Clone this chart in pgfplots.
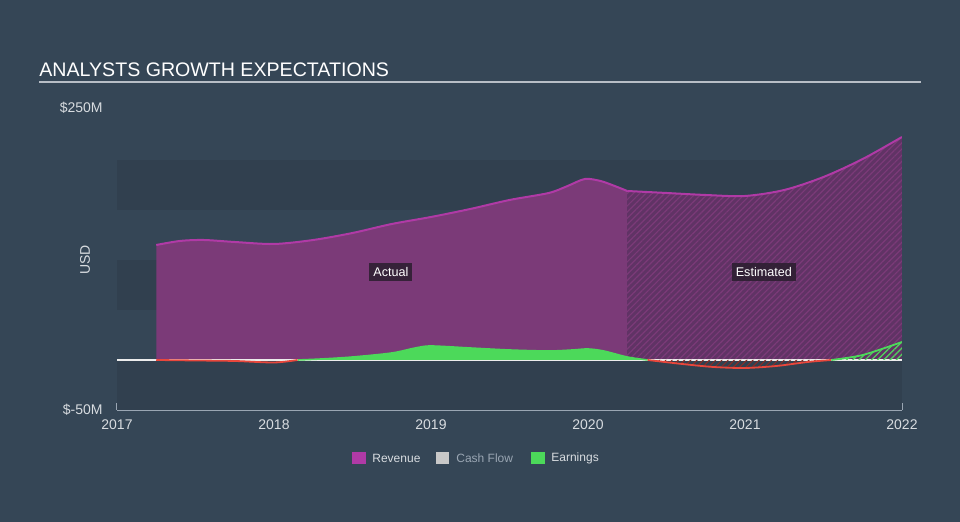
\documentclass[border=0pt]{standalone}
\usepackage{pgfplots}
\pgfplotsset{compat=1.18}
\usepackage{pgfplotstable}
\usepackage{fontspec}
\setmainfont{Liberation Sans}
\usetikzlibrary{patterns.meta}

\definecolor{bg}{HTML}{354656}
\definecolor{band}{HTML}{31404F}
\definecolor{revfill}{HTML}{7B3A78}
\definecolor{revline}{HTML}{B03AA6}
\definecolor{revest}{HTML}{603365}
\definecolor{earn}{HTML}{4CD95A}
\definecolor{neg}{HTML}{E8473C}
\definecolor{axiscol}{HTML}{9AA6B3}
\definecolor{txt}{HTML}{D8DCE0}
\definecolor{cash}{HTML}{C8C8C8}
\definecolor{labbg}{HTML}{2A1E2E}
\definecolor{rulecol}{HTML}{B8BEC6}

\pgfplotstableread{
x y
2017.25 115
2017.40 119
2017.55 120
2017.75 118
2018.00 116
2018.25 120
2018.50 127
2018.75 136
2019.00 143
2019.25 151
2019.50 160
2019.75 167
2019.87 174
2019.98 181
2020.08 179
2020.17 174
2020.25 169
}\revact

\pgfplotstableread{
x y
2020.25 169
2020.50 167
2020.75 165
2021.00 164
2021.25 170
2021.50 183
2021.75 201
2022.00 223
}\revest

\pgfplotstableread{
x y
2017.25 0
2017.50 -0.5
2017.75 -1
2018.00 -2.5
2018.15 0
}\earnA

\pgfplotstableread{
x y
2018.15 0
2018.30 1
2018.50 3
2018.75 7
2018.90 12
2019.00 14
2019.25 12
2019.50 10
2019.75 9
2019.90 10
2020.00 11
2020.10 9
2020.25 3
2020.38 0
}\earnB

\pgfplotstableread{
x y
2020.38 0
2020.60 -4
2020.80 -7
2021.00 -8
2021.20 -6
2021.40 -2
2021.55 0
}\earnC

\pgfplotstableread{
x y
2021.55 0
2021.75 5
2022.00 18
}\earnD

\begin{document}
\begin{tikzpicture}
\fill[bg] (0,0) rectangle (480pt,261pt);
\useasboundingbox (0,0) rectangle (480pt,261pt);
\node[anchor=base west, text=white, font=\fontsize{9.8}{12}\selectfont, inner sep=0pt] at (19.5pt,222.5pt) {ANALYSTS GROWTH EXPECTATIONS};
\draw[rulecol, line width=1pt] (19.5pt,220pt) -- (460.5pt,220pt);

\node[anchor=east, text=txt, font=\fontsize{7}{8}\selectfont, inner sep=0pt] at (51.5pt,207pt) {\$250M};
\node[anchor=east, text=txt, font=\fontsize{7}{8}\selectfont, inner sep=0pt] at (51.5pt,56pt) {\$-50M};
\node[rotate=90, text=txt, font=\fontsize{7}{8}\selectfont, inner sep=0pt] at (42.5pt,131pt) {USD};

\begin{axis}[
  at={(58.5pt,56pt)}, anchor=south west,
  scale only axis, width=392.5pt, height=150pt,
  xmin=2017, xmax=2022, ymin=-50, ymax=250,
  axis x line*=bottom, axis y line=none,
  x axis line style={draw=axiscol, line width=0.6pt},
  xtick={2017,2018,2019,2020,2021,2022},
  xtick align=inside,
  major tick length=3.5pt,
  xtick style={draw=axiscol, line width=0.6pt},
  xticklabel style={font=\fontsize{7}{8}\selectfont, text=txt, yshift=-1.5pt},
  /pgf/number format/1000 sep={},
  /pgf/number format/assume math mode=true,
]
\fill[band] (axis cs:2017,150) rectangle (axis cs:2022,200);
\fill[band] (axis cs:2017,50) rectangle (axis cs:2022,100);
\fill[band] (axis cs:2017,-50) rectangle (axis cs:2022,0);

\addplot[draw=none, fill=revfill, smooth] table {\revact} \closedcycle;
\addplot[draw=none, fill=revest, smooth, postaction={pattern={Lines[angle=45,distance=2.2pt,line width=0.6pt]}, pattern color=revfill}] table {\revest} \closedcycle;
\addplot[revline, line width=1pt, smooth] table {\revact};
\addplot[revline, line width=1pt, smooth] table {\revest};

\draw[white!85!gray, line width=0.6pt] (axis cs:2017,0) -- (axis cs:2022,0);

\addplot[draw=none, fill=earn, smooth] table {\earnB} \closedcycle;
\addplot[earn, line width=0.8pt, smooth] table {\earnB};
\addplot[draw=none, smooth, pattern={Lines[angle=45,distance=2.2pt,line width=0.5pt]}, pattern color=neg!60!black] table {\earnC} \closedcycle;
\addplot[neg, line width=0.9pt, smooth] table {\earnA};
\addplot[neg, line width=0.9pt, smooth] table {\earnC};
\addplot[draw=none, smooth, pattern={Lines[angle=45,distance=2.2pt,line width=0.6pt]}, pattern color=earn] table {\earnD} \closedcycle;
\addplot[earn, line width=0.9pt, smooth] table {\earnD};

\node[fill=labbg, fill opacity=0.85, text opacity=1, text=white, font=\fontsize{6.3}{7}\selectfont, inner sep=2pt] at (axis cs:2018.745,88) {Actual};
\node[fill=labbg, fill opacity=0.85, text opacity=1, text=white, font=\fontsize{6.3}{7}\selectfont, inner sep=2pt] at (axis cs:2021.12,88) {Estimated};
\end{axis}

\fill[revline] (176pt,29pt) rectangle (183pt,35pt);
\node[anchor=west, inner sep=0pt, text=txt, font=\fontsize{6}{7}\selectfont] at (186pt,32pt) {Revenue};
\fill[cash] (218pt,29pt) rectangle (224.5pt,35pt);
\node[anchor=west, inner sep=0pt, text=axiscol, font=\fontsize{6}{7}\selectfont] at (228pt,32pt) {Cash Flow};
\fill[earn] (265.5pt,29pt) rectangle (272.5pt,35pt);
\node[anchor=west, inner sep=0pt, text=txt, font=\fontsize{6}{7}\selectfont] at (275.5pt,32pt) {Earnings};
\end{tikzpicture}
\end{document}
